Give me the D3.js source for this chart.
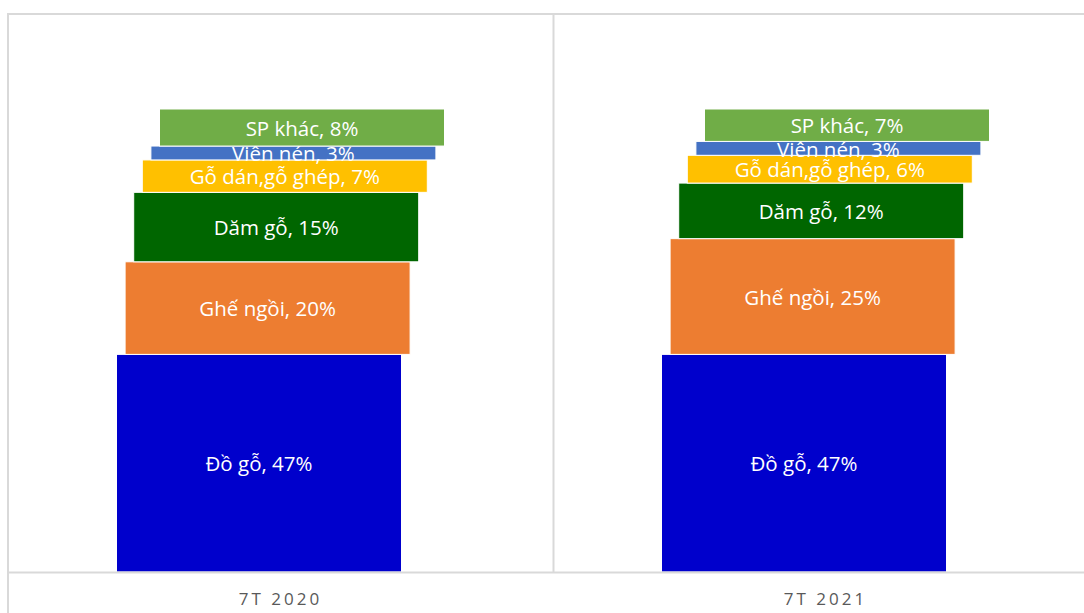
<!DOCTYPE html>
<html>
<head>
<meta charset="utf-8">
<script src="https://cdn.jsdelivr.net/npm/d3@7"></script>
<style>
  html, body { margin: 0; padding: 0; background: #fff; overflow: hidden; }
  svg { display: block; }
</style>
</head>
<body>
<svg id="chart" width="1084" height="613"></svg>
<script>
// Periods (x categories)
const categories = ["7T 2020", "7T 2021"];

// Product groups, stacked from bottom to top
const seriesNames = ["Đồ gỗ", "Ghế ngồi", "Dăm gỗ", "Gỗ dán,gỗ ghép", "Viên nén", "SP khác"];
const seriesColors = ["#0000CC", "#ED7D31", "#006600", "#FFC000", "#4472C4", "#70AD47"];

// Share (%) of each product group per period
const values2020 = [47, 20, 15, 7, 3, 8];
const values2021 = [47, 25, 12, 6, 3, 7];
const valuesByCategory = [values2020, values2021];

const W = 1084, H = 613;
const frame = { left: 8, top: 14 };
const plot = { left: 8, right: 1098, top: 109, bottom: 572 };

const svg = d3.select("#chart");

// Chart frame (partly off-page on the right/bottom)
svg.append("rect")
  .attr("x", frame.left).attr("y", frame.top)
  .attr("width", W + 40).attr("height", H + 40)
  .attr("fill", "none").attr("stroke", "#d9d9d9").attr("stroke-width", 2);

const x = d3.scaleBand()
  .domain(categories)
  .range([plot.left, plot.right])
  .paddingInner(0).paddingOuter(0);

const y = d3.scaleLinear().domain([0, 100]).range([plot.bottom, plot.top]);

// Each series layer is shifted slightly to the right of the one below it
const shift = d3.scaleLinear()
  .domain([0, seriesNames.length - 1])
  .range([-21.5, 21.5]);

const barWidth = 285;

// Category divider
svg.append("line")
  .attr("x1", x(categories[1]) + 0.5).attr("x2", x(categories[1]) + 0.5)
  .attr("y1", frame.top + 1).attr("y2", plot.bottom)
  .attr("stroke", "#d9d9d9").attr("stroke-width", 2);

// Stacked data
const rows = categories.map((c, i) => {
  const r = { category: c };
  seriesNames.forEach((s, j) => r[s] = valuesByCategory[i][j]);
  return r;
});
const stacked = d3.stack().keys(seriesNames)(rows);

const layers = svg.append("g").selectAll("g")
  .data(stacked)
  .join("g")
  .attr("fill", (d, i) => seriesColors[i]);

layers.selectAll("rect")
  .data((d, i) => d.map(p => ({ p, i, key: d.key })))
  .join("rect")
  .attr("x", d => x(d.p.data.category) + x.bandwidth() / 2 + shift(d.i) - barWidth / 2)
  .attr("width", barWidth)
  .attr("y", d => y(d.p[1]))
  .attr("height", d => y(d.p[0]) - y(d.p[1]))
  .attr("stroke", "#fff")
  .attr("stroke-width", 1);

// Data labels: "<group>, <value>%"
const labels = svg.append("g")
  .attr("font-family", "'Open Sans', 'Noto Sans', sans-serif")
  .attr("font-size", 20.5)
  .attr("fill", "#fff")
  .attr("text-anchor", "middle");

stacked.forEach((layer, i) => {
  layer.forEach(p => {
    const v = p[1] - p[0];
    labels.append("text")
      .attr("x", x(p.data.category) + x.bandwidth() / 2 + shift(i))
      .attr("y", (y(p[0]) + y(p[1])) / 2 + 1)
      .attr("dy", "0.35em")
      .text(`${layer.key}, ${v}%`);
  });
});

// X axis line and category labels
const xAxis = d3.axisBottom(x).tickSize(0).tickPadding(21);
const gx = svg.append("g")
  .attr("transform", `translate(0,${plot.bottom})`)
  .call(xAxis);
gx.select(".domain").attr("stroke", "#d9d9d9").attr("stroke-width", 2);
gx.selectAll("text")
  .attr("font-family", "'Open Sans', 'Noto Sans', sans-serif")
  .attr("font-size", 17)
  .attr("letter-spacing", "3px")
  .attr("fill", "#595959");
</script>
</body>
</html>
